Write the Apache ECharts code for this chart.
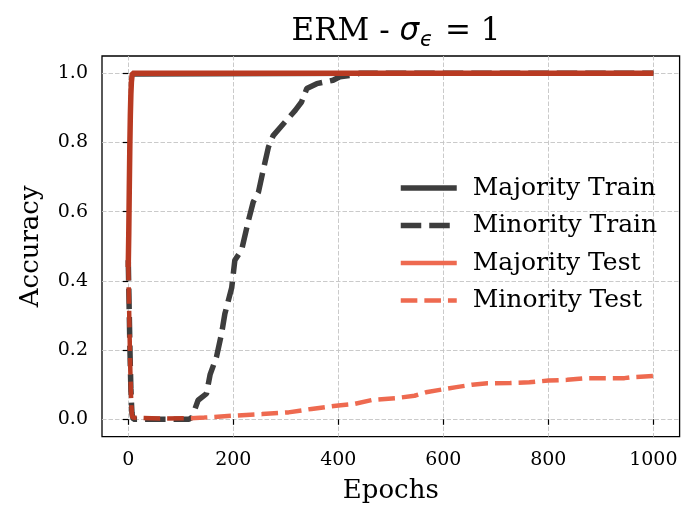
<!DOCTYPE html>
<html>
<head>
<meta charset="utf-8">
<script src="https://cdn.jsdelivr.net/npm/echarts@6/dist/echarts.min.js"></script>
<style>html,body{margin:0;padding:0;background:#fff;}#c{width:697px;height:518px;}</style>
</head>
<body>
<div id="c"></div>
<script>
// ---- data ----
const seriesNames = ['Majority Train', 'Minority Train', 'Majority Test', 'Minority Test'];
const xTicks = [0, 200, 400, 600, 800, 1000];
const yTicks = [0, 0.2, 0.4, 0.6, 0.8, 1.0];

const majTrainEpochs = [0, 1, 2, 3, 4, 5, 6, 7, 8, 1000];
const majTrainAcc    = [0.45, 0.55, 0.68, 0.80, 0.89, 0.95, 0.98, 0.995, 1.0, 1.0];

const minTrainEpochs = [0, 1, 2, 3, 4, 5, 6, 7, 8, 10, 60, 115, 121, 133, 149, 156, 168, 178, 184, 197, 203, 216, 229, 238, 248, 257, 267, 276, 296, 318, 330, 340, 359, 390, 403, 428, 440, 1000];
const minTrainAcc    = [0.46, 0.38, 0.30, 0.22, 0.15, 0.09, 0.05, 0.02, 0.008, 0.0, 0.0, 0.0, 0.005, 0.055, 0.074, 0.13, 0.18, 0.25, 0.305, 0.38, 0.46, 0.49, 0.575, 0.628, 0.657, 0.72, 0.787, 0.82, 0.855, 0.893, 0.917, 0.956, 0.97, 0.98, 0.99, 0.995, 1.0, 1.0];

const majTestEpochs  = [0, 1, 2, 3, 4, 5, 6, 7, 8, 1000];
const majTestAcc     = [0.44, 0.54, 0.67, 0.79, 0.88, 0.94, 0.975, 0.99, 1.0, 1.0];

const minTestEpochs  = [0, 1, 2, 3, 4, 5, 6, 7, 8, 10, 60, 116, 145, 196, 255, 305, 349, 400, 429, 465, 509, 545, 567, 604, 625, 655, 684, 727, 764, 800, 836, 873, 945, 960, 1000];
const minTestAcc     = [0.45, 0.37, 0.29, 0.21, 0.14, 0.08, 0.04, 0.015, 0.005, 0.002, 0.002, 0.003, 0.005, 0.01, 0.015, 0.02, 0.03, 0.04, 0.044, 0.056, 0.061, 0.068, 0.078, 0.088, 0.093, 0.10, 0.104, 0.105, 0.107, 0.112, 0.114, 0.119, 0.119, 0.122, 0.125];

function pairs(xs, ys) { return xs.map((x, i) => [x, ys[i]]); }

const DARK = '#3d3d3d', RED = '#ee6a50', DEEP = '#b83a22';
const SERIF = "'DejaVu Serif', serif";
const NOSYM = {color: 'rgba(0,0,0,0)', borderWidth: 0, opacity: 0};
const W = 697;

const chart = echarts.init(document.getElementById('c'), null, {renderer: 'canvas'});
chart.setOption({
  animation: false,
  backgroundColor: '#fff',
  title: {
    left: 391, top: 9, textAlign: 'center',
    text: '{a|ERM - }{s|σ}{e|ϵ}{a| = 1}',
    textStyle: {
      fontWeight: 'normal',
      rich: {
        a: {fontFamily: SERIF, fontWeight: 'normal', fontSize: 31, color: '#000', lineHeight: 36},
        s: {fontFamily: "'DejaVu Sans'", fontWeight: 'normal', fontStyle: 'italic', fontSize: 31, color: '#000', lineHeight: 36},
        e: {fontFamily: "'DejaVu Sans'", fontWeight: 'normal', fontStyle: 'italic', fontSize: 21, color: '#000', lineHeight: 22, padding: [18, 2, 0, 1]}
      }
    }
  },
  grid: {left: 102, right: 17.4, top: 56, bottom: 81.4, show: true, borderColor: '#000', borderWidth: 1.3, containLabel: false},
  legend: {
    orient: 'vertical', left: 398, top: 175, padding: 0,
    itemWidth: 56, itemHeight: 26, itemGap: 11.5,
    itemStyle: NOSYM,
    textStyle: {fontFamily: SERIF, fontSize: 25, color: '#000', lineHeight: 26, padding: [0, 0, 0, 11]},
    data: [
      {name: seriesNames[0], lineStyle: {color: DARK, width: 5.5}, itemStyle: NOSYM},
      {name: seriesNames[1], lineStyle: {color: DARK, width: 5.5}, itemStyle: NOSYM},
      {name: seriesNames[2], lineStyle: {color: RED, width: 4.5}, itemStyle: NOSYM},
      {name: seriesNames[3], lineStyle: {color: RED, width: 4.5}, itemStyle: NOSYM}
    ]
  },
  xAxis: {
    type: 'value', min: -50, max: 1050,
    name: 'Epochs', nameLocation: 'middle', nameGap: 42,
    nameTextStyle: {fontFamily: SERIF, fontSize: 26, color: '#000'},
    axisLine: {show: false},
    axisTick: {show: true, inside: false, length: 5.5, lineStyle: {color: '#000', width: 1.2}, customValues: xTicks},
    axisLabel: {customValues: xTicks, fontFamily: SERIF, fontSize: 19, color: '#000', margin: 14,
      formatter: v => String(v)},
    splitLine: {show: true, lineStyle: {color: '#c4c4c4', width: 0.9, type: [4.5, 2]}}
  },
  yAxis: {
    type: 'value', min: -0.05, max: 1.05,
    name: 'Accuracy', nameLocation: 'middle', nameGap: 58,
    nameTextStyle: {fontFamily: SERIF, fontSize: 26, color: '#000'},
    axisLine: {show: false},
    axisTick: {show: true, inside: false, length: 5.5, lineStyle: {color: '#000', width: 1.2}, customValues: yTicks},
    axisLabel: {customValues: yTicks, fontFamily: SERIF, fontSize: 19, color: '#000', margin: 14,
      formatter: v => v.toFixed(1)},
    splitLine: {show: true, lineStyle: {color: '#c4c4c4', width: 0.9, type: [4.5, 2]}}
  },
  series: [
    {id: 's0', name: seriesNames[0], type: 'line', data: pairs(majTrainEpochs, majTrainAcc), showSymbol: false, symbol: 'none',
      lineStyle: {color: DARK, width: 3.5}, itemStyle: {color: DARK}, z: 2},
    {id: 's1', name: seriesNames[1], type: 'line', data: pairs(minTrainEpochs, minTrainAcc), showSymbol: false, symbol: 'none',
      lineStyle: {color: DARK, width: 5.5, type: [20.5, 8]}, itemStyle: {color: DARK}, z: 3},
    {id: 's2', name: seriesNames[2], type: 'line', data: pairs(majTestEpochs, majTestAcc), showSymbol: false, symbol: 'none',
      lineStyle: {color: DEEP, width: 5.5}, itemStyle: {color: RED}, z: 4},
    {id: 's3', name: seriesNames[3], type: 'line', data: pairs(minTestEpochs, minTestAcc), showSymbol: false, symbol: 'none',
      lineStyle: {color: RED, width: 4.5, type: [16.6, 7]}, itemStyle: {color: RED}, z: 5}
  ]
});

// where the minority-test curve overlaps the dark curve it looks deeper red in the reference
const split = chart.convertToPixel({xAxisIndex: 0}, 120) / W;
chart.setOption({
  series: [{
    id: 's3',
    lineStyle: {
      color: {type: 'linear', x: 0, y: 0, x2: W, y2: 0, global: true,
        colorStops: [{offset: 0, color: DEEP}, {offset: split, color: DEEP}, {offset: split, color: RED}, {offset: 1, color: RED}]}
    }
  }]
});
</script>
</body>
</html>
